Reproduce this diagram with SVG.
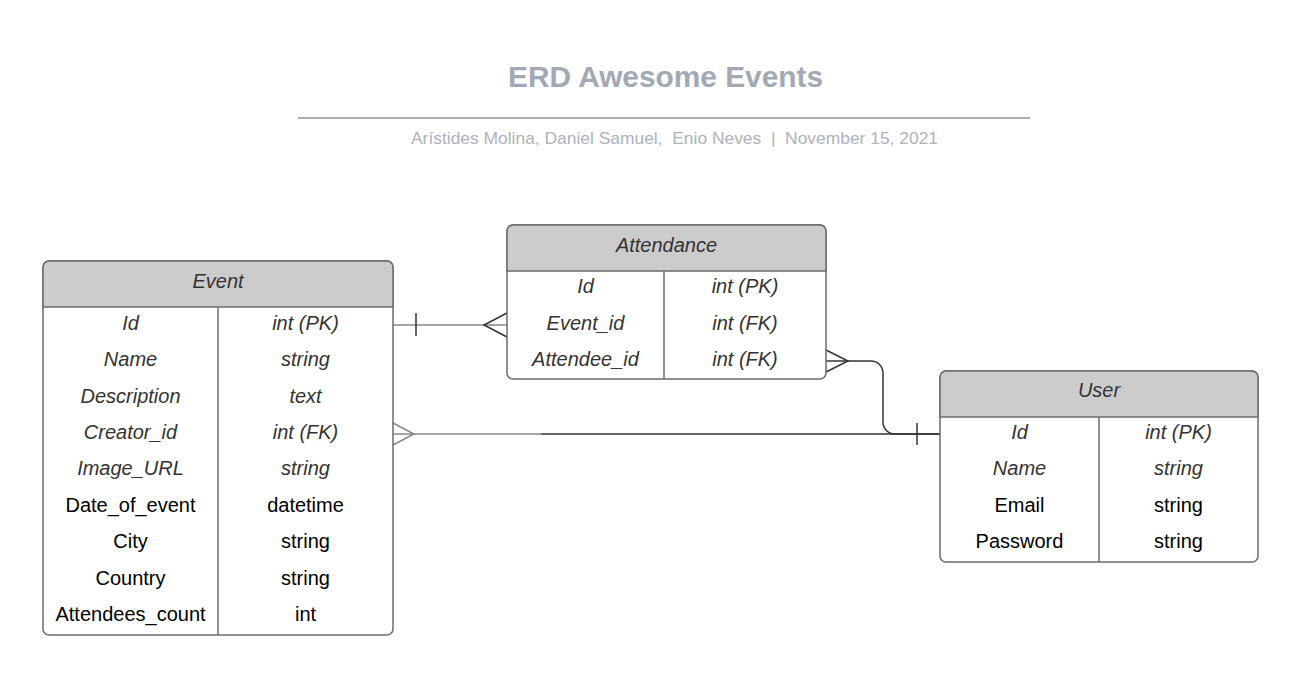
<svg xmlns="http://www.w3.org/2000/svg" width="1292" height="675" viewBox="0 0 1292 675">
<style>
.box{fill:#ffffff;stroke:#6b6b6b;stroke-width:1.5}
.hdr{fill:#cccccc;stroke:#6b6b6b;stroke-width:1.5}
.div{stroke:#6b6b6b;stroke-width:1.5;fill:none}
text{font-family:"Liberation Sans",Arial,sans-serif;font-size:20px;text-anchor:middle}
.it{font-style:italic;fill:#333333}
.rg{fill:#000000}
.c1{stroke:#888888;stroke-width:1.5;fill:none}
.c2{stroke:#333333;stroke-width:1.5;fill:none}
.title{font-size:29px;font-weight:bold;fill:#a3a9b4}
.sub{font-size:17px;fill:#aeb2ba}
</style>
<rect width="1292" height="675" fill="#ffffff"/>
<g id="title">
<text class="title" x="665.5" y="87" textLength="315" lengthAdjust="spacingAndGlyphs">ERD Awesome Events</text>
<line x1="298" y1="118" x2="1030" y2="118" stroke="#a9adb8" stroke-width="2"/>
<text class="sub" x="674.5" y="144" xml:space="preserve" textLength="527" lengthAdjust="spacingAndGlyphs">Arístides Molina, Daniel Samuel,  Enio Neves  |  November 15, 2021</text>
</g>
<g id="connectors">
<line class="c1" x1="393" y1="325" x2="507" y2="325"/>
<line class="c2" x1="416" y1="313" x2="416" y2="336"/>
<polyline class="c2" points="507,313 484,325 507,337"/>
<line class="c1" x1="393" y1="434" x2="541" y2="434"/>
<line class="c2" x1="541" y1="434" x2="940" y2="434"/>
<polyline class="c1" points="393,423 414,434 393,445"/>
<polyline class="c2" points="826,350 848,361 826,372"/>
<path class="c2" d="M826,361 H871 A12,12 0 0 1 883,373 V422 A12,12 0 0 0 895,434 H940"/>
<line class="c2" x1="917" y1="423" x2="917" y2="445"/>
</g>
<g id="event">
<rect class="box" x="43" y="261" width="350" height="374" rx="6"/>
<path class="hdr" d="M43,307 V267 A6,6 0 0 1 49,261 H387 A6,6 0 0 1 393,267 V307 Z"/>
<line class="div" x1="218" y1="307" x2="218" y2="635"/>
<text class="it" x="218" y="288">Event</text>
<text class="it" x="130.5" y="330">Id</text><text class="it" x="305.5" y="330">int (PK)</text>
<text class="it" x="130.5" y="366">Name</text><text class="it" x="305.5" y="366">string</text>
<text class="it" x="130.5" y="403">Description</text><text class="it" x="305.5" y="403">text</text>
<text class="it" x="130.5" y="439">Creator_id</text><text class="it" x="305.5" y="439">int (FK)</text>
<text class="it" x="130.5" y="475">Image_URL</text><text class="it" x="305.5" y="475">string</text>
<text class="rg" x="130.5" y="512">Date_of_event</text><text class="rg" x="305.5" y="512">datetime</text>
<text class="rg" x="130.5" y="548">City</text><text class="rg" x="305.5" y="548">string</text>
<text class="rg" x="130.5" y="585">Country</text><text class="rg" x="305.5" y="585">string</text>
<text class="rg" x="130.5" y="621">Attendees_count</text><text class="rg" x="305.5" y="621">int</text>
</g>
<g id="attendance">
<rect class="box" x="507" y="225" width="319" height="154" rx="6"/>
<path class="hdr" d="M507,271 V231 A6,6 0 0 1 513,225 H820 A6,6 0 0 1 826,231 V271 Z"/>
<line class="div" x1="664" y1="271" x2="664" y2="379"/>
<text class="it" x="666.5" y="252">Attendance</text>
<text class="it" x="585.5" y="293">Id</text><text class="it" x="745" y="293">int (PK)</text>
<text class="it" x="585.5" y="330">Event_id</text><text class="it" x="745" y="330">int (FK)</text>
<text class="it" x="585.5" y="366">Attendee_id</text><text class="it" x="745" y="366">int (FK)</text>
</g>
<g id="user">
<rect class="box" x="940" y="371" width="318" height="191" rx="6"/>
<path class="hdr" d="M940,417 V377 A6,6 0 0 1 946,371 H1252 A6,6 0 0 1 1258,377 V417 Z"/>
<line class="div" x1="1099" y1="417" x2="1099" y2="562"/>
<text class="it" x="1099" y="397">User</text>
<text class="it" x="1019.5" y="439">Id</text><text class="it" x="1178.5" y="439">int (PK)</text>
<text class="it" x="1019.5" y="475">Name</text><text class="it" x="1178.5" y="475">string</text>
<text class="rg" x="1019.5" y="512">Email</text><text class="rg" x="1178.5" y="512">string</text>
<text class="rg" x="1019.5" y="548">Password</text><text class="rg" x="1178.5" y="548">string</text>
</g>
</svg>
